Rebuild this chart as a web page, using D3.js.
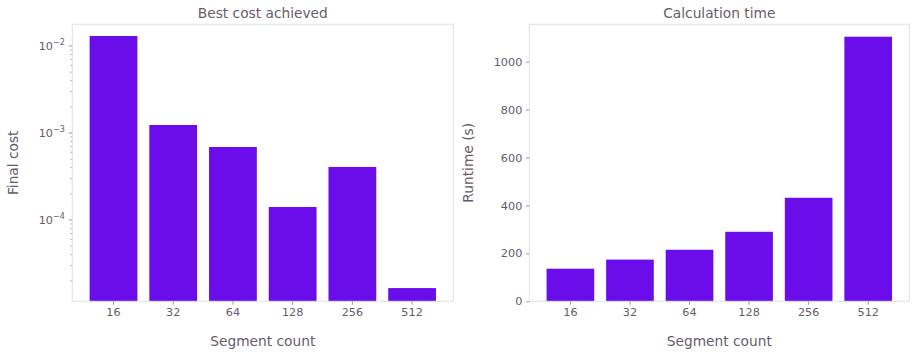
<!DOCTYPE html>
<html><head><meta charset="utf-8">
<script src="https://cdn.jsdelivr.net/npm/d3@7"></script>
<style>
body{margin:0;background:#fff;}
text{font-family:"DejaVu Sans",sans-serif;fill:#675b6b;}
</style></head>
<body>
<svg id="c" width="916" height="357"></svg>
<script>
const categories = ["16","32","64","128","256","512"];
const finalCost = [0.01303, 0.001236, 0.00069, 0.000141, 0.000407, 0.0000165];
const runtime = [136, 174, 215, 290, 432, 1104];
const costTicks = [1e-2, 1e-3, 1e-4];
const costTickExp = ["−2","−3","−4"];
const runtimeTicks = [0,200,400,600,800,1000];

const svg = d3.select("#c");
const barColor = "#6a0dea";
const frameColor = "#dde3e6";
const tickColor = "#8a7f8c";
const plotTop = 24.3, plotBottom = 301.3;

function panel(x0, x1, title, ylabel, ylabelX, yScale, drawYAxis, values) {
  const g = svg.append("g");
  const x = d3.scaleBand().domain(categories).range([x0, x1]).paddingInner(0.2).paddingOuter(0.29);
  g.selectAll("rect.bar").data(values).join("rect")
    .attr("x", (d,i)=>x(categories[i])).attr("width", x.bandwidth())
    .attr("y", d=>yScale(d)).attr("height", d=>plotBottom - yScale(d))
    .attr("fill", barColor);
  g.append("rect").attr("x", x0).attr("y", plotTop).attr("width", x1-x0).attr("height", plotBottom-plotTop)
    .attr("fill","none").attr("stroke", frameColor).attr("stroke-width",1);
  const xa = g.append("g").attr("transform",`translate(0,${plotBottom})`)
    .call(d3.axisBottom(x).tickSize(3.5).tickPadding(3.5).tickSizeOuter(0));
  xa.select(".domain").remove();
  xa.selectAll("line").attr("stroke", tickColor).attr("stroke-width",0.8);
  xa.selectAll("text").attr("font-size","11.25px").style("fill","#675b6b");
  drawYAxis(g, x0);
  g.append("text").attr("x",(x0+x1)/2).attr("y",17.5).attr("text-anchor","middle")
    .attr("font-size","13.75px").text(title);
  g.append("text").attr("x",(x0+x1)/2).attr("y",346).attr("text-anchor","middle")
    .attr("font-size","13.75px").text("Segment count");
  g.append("text").attr("transform",`translate(${ylabelX},${(plotTop+plotBottom)/2}) rotate(-90)`)
    .attr("text-anchor","middle").attr("font-size","13.75px").text(ylabel);
}

const yLog = d3.scaleLog().domain([Math.pow(10,-4.9345), Math.pow(10,-1.7506)]).range([plotBottom, plotTop]);
panel(72.3, 453.3, "Best cost achieved", "Final cost", 18, yLog, (g, x0) => {
  const [lo, hi] = yLog.domain();
  const minor = [];
  for (let e = -6; e <= -1; e++) for (let m = 2; m <= 9; m++) {
    const v = m * Math.pow(10, e);
    if (v >= lo && v <= hi) minor.push(v);
  }
  g.selectAll("line.minor").data(minor).join("line").attr("class","minor")
    .attr("x1", x0-2).attr("x2", x0).attr("y1", d=>yLog(d)).attr("y2", d=>yLog(d))
    .attr("stroke", tickColor).attr("stroke-width",0.6);
  g.selectAll("line.major").data(costTicks).join("line").attr("class","major")
    .attr("x1", x0-3.5).attr("x2", x0).attr("y1", d=>yLog(d)).attr("y2", d=>yLog(d))
    .attr("stroke", tickColor).attr("stroke-width",0.8);
  const t = g.selectAll("text.yt").data(costTicks).join("text").attr("class","yt")
    .attr("x", x0-7.5).attr("y", d=>yLog(d)+4).attr("text-anchor","end")
    .attr("font-size","11.25px");
  t.append("tspan").text("10");
  t.append("tspan").attr("font-size","8px").attr("dy","-4.5").text((d,i)=>costTickExp[i]);
}, finalCost);

const yLin = d3.scaleLinear().domain([0, (301.7-24.3)/0.24]).range([plotBottom, plotTop]);
panel(529.3, 909.3, "Calculation time", "Runtime (s)", 473, yLin, (g, x0) => {
  const ya = g.append("g").attr("transform",`translate(${x0},0)`)
    .call(d3.axisLeft(yLin).tickValues(runtimeTicks).tickFormat(d3.format("d"))
      .tickSize(3.5).tickPadding(3.5).tickSizeOuter(0));
  ya.select(".domain").remove();
  ya.selectAll("line").attr("stroke", tickColor).attr("stroke-width",0.8);
  ya.selectAll("text").attr("font-size","11.25px").style("fill","#675b6b");
}, runtime);
</script>
</body></html>
